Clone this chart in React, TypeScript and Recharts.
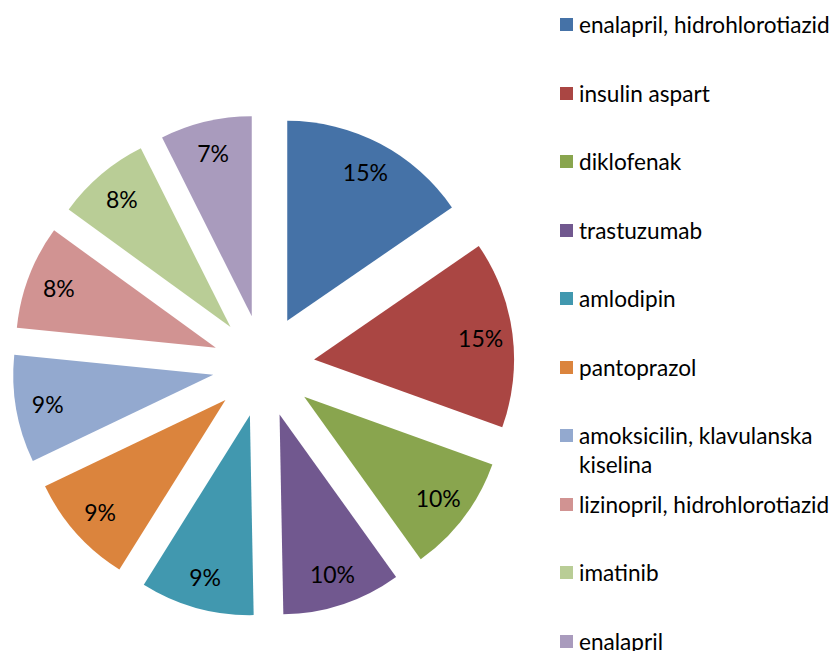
import React from 'react';
import { PieChart, Pie, Cell, Legend } from 'recharts';

const drugNames = [
  'enalapril, hidrohlorotiazid',
  'insulin aspart',
  'diklofenak',
  'trastuzumab',
  'amlodipin',
  'pantoprazol',
  'amoksicilin, klavulanska kiselina',
  'lizinopril, hidrohlorotiazid',
  'imatinib',
  'enalapril',
];
const drugValues = [15.4, 15.1, 9.6, 9.6, 9.2, 9.0, 8.7, 8.4, 7.6, 7.4];
const sliceColors = [
  '#4572A7', '#AA4643', '#89A54E', '#71588F', '#4198AF',
  '#DB843D', '#93A9CF', '#D19392', '#B9CD96', '#A99BBD',
];

const W = 832;
const H = 651;
const CX = 263.5;
const CY = 366;
const R = 200;
const EXPLODE = 51;
const LABEL_R = 168;
const FONT = 'Lato, "Open Sans", sans-serif';

const total = drugValues.reduce((s, v) => s + v, 0);
let acc = 0;
const slices = drugValues.map((v, i) => {
  const a0 = (acc / total) * 360;
  acc += v;
  const a1 = (acc / total) * 360;
  const mid = ((a0 + a1) / 2) * (Math.PI / 180);
  const cx = CX + EXPLODE * Math.sin(mid);
  const cy = CY - EXPLODE * Math.cos(mid);
  return {
    name: drugNames[i],
    value: v,
    color: sliceColors[i],
    startAngle: 90 - a0,
    endAngle: 90 - a1,
    cx,
    cy,
    lx: cx + LABEL_R * Math.sin(mid),
    ly: cy - LABEL_R * Math.cos(mid),
    pct: Math.round((v / total) * 100),
  };
});

const renderLegend = () => (
  <div style={{ position: 'relative', width: 280, height: H }}>
    {slices.map((s, i) => {
      const centerY = 24.5 + i * 68.5;
      return (
        <div key={i}>
          <div
            style={{
              position: 'absolute',
              left: 8,
              top: centerY - 6.5,
              width: 13,
              height: 13,
              background: s.color,
            }}
          />
          <div
            style={{
              position: 'absolute',
              left: 27,
              top: centerY - 14.5,
              width: 252,
              fontFamily: FONT,
              fontSize: 22.6,
              lineHeight: '29px',
              color: '#000',
            }}
          >
            {s.name}
          </div>
        </div>
      );
    })}
  </div>
);

export default function App() {
  return (
    <div style={{ width: W, height: H, background: '#fff' }}>
      <style>{'body{margin:0;overflow:hidden;}'}</style>
      <PieChart width={W} height={H} margin={{ top: 0, right: 0, bottom: 0, left: 0 }}>
        {slices.map((s, i) => (
          <Pie
            key={i}
            data={[{ name: s.name, value: s.value }]}
            dataKey="value"
            nameKey="name"
            cx={s.cx}
            cy={s.cy}
            innerRadius={0}
            outerRadius={R}
            startAngle={s.startAngle}
            endAngle={s.endAngle}
            stroke="none"
            isAnimationActive={false}
            labelLine={false}
            label={() => (
              <text
                x={s.lx}
                y={s.ly}
                textAnchor="middle"
                dominantBaseline="central"
                fontFamily={FONT}
                fontSize={23}
                fill="#000"
              >
                {`${s.pct}%`}
              </text>
            )}
          >
            <Cell fill={s.color} />
          </Pie>
        ))}
        <Legend
          layout="vertical"
          align="right"
          verticalAlign="top"
          content={renderLegend}
          wrapperStyle={{ left: 552, top: 0, width: 280, height: H }}
        />
      </PieChart>
    </div>
  );
}
